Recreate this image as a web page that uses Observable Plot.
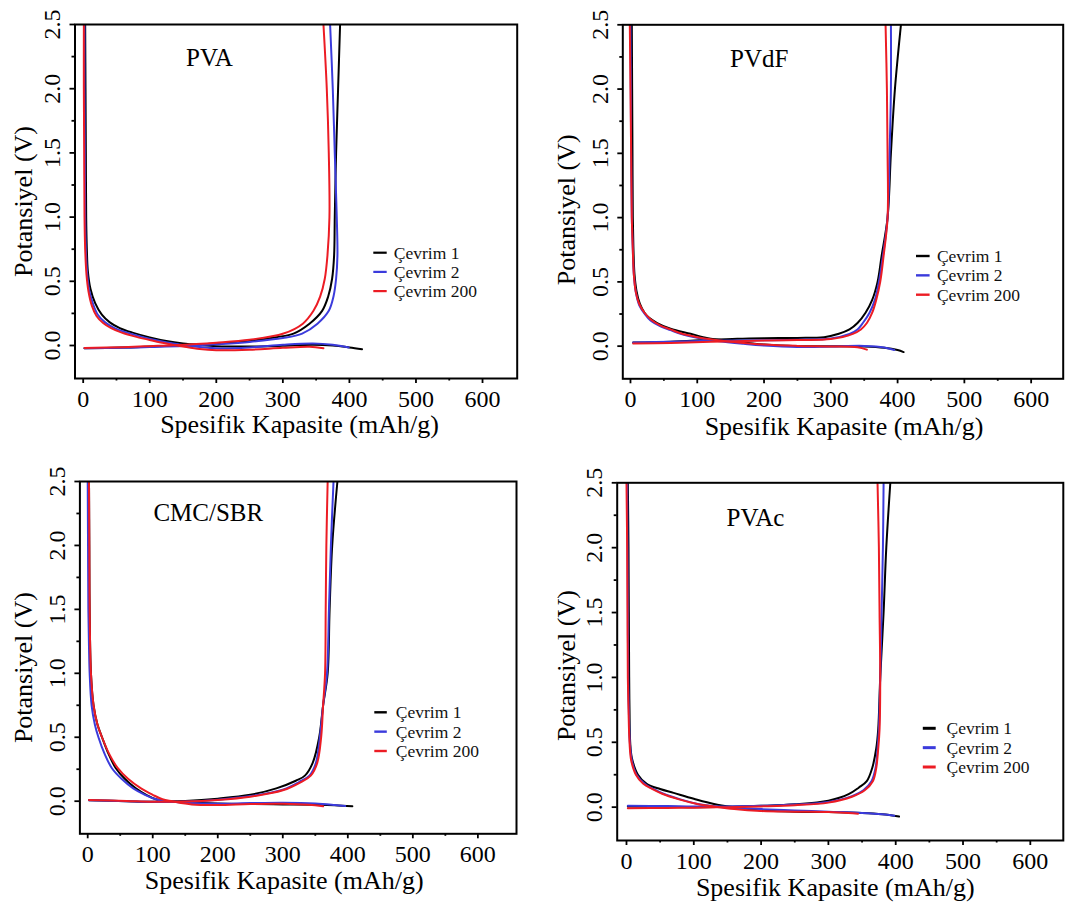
<!DOCTYPE html>
<html><head><meta charset="utf-8">
<script src="https://cdn.jsdelivr.net/npm/d3@7"></script>
<script src="https://cdn.jsdelivr.net/npm/@observablehq/plot@0.6"></script>
<style>
body{margin:0;background:#fff}
#wrap{position:relative;width:1066px;height:909px;overflow:hidden;background:#fff}
.panel{position:absolute}
.panel text{font-family:'Liberation Serif','Times New Roman',Times,serif !important;font-variant:normal !important}
.panel g[aria-label="x-axis tick label"] text,
.panel g[aria-label="y-axis tick label"] text{font-size:24px !important}
</style></head><body><div id="wrap"></div>
<script>
// ---------- tick values & labels ----------
const xMajor = [0, 100, 200, 300, 400, 500, 600];
const xMinor = [50, 150, 250, 350, 450, 550];
const yMajor = [0, 0.5, 1.0, 1.5, 2.0, 2.5];
const yMinor = [0.25, 0.75, 1.25, 1.75, 2.25];
const xLabel = "Spesifik Kapasite (mAh/g)";
const yLabel = "Potansiyel (V)";
const cycles = ["Çevrim 1", "Çevrim 2", "Çevrim 200"];
const colors = ["#000000", "#3b3bdc", "#ec1c24"];
const panelNames = ["PVA", "PVdF", "CMC/SBR", "PVAc"];

// ---------- PVA ----------
const pvaC1Dis = [[3,2.5],[3.5,2.0],[4,1.5],[4.5,1.0],[5.5,0.75],[7,0.58],[11,0.44],[18,0.33],[28,0.24],[40,0.18],[55,0.135],[74,0.1],[100,0.063],[125,0.035],[150,0.016],[175,0.004],[200,-0.005],[250,-0.008],[300,-0.002],[345,0.006],[375,0.0],[400,-0.015],[419,-0.029]];
const pvaC2Dis = [[2,2.5],[2,2.0],[2.5,1.5],[3,1.0],[4,0.75],[6,0.56],[9,0.43],[15,0.32],[22,0.24],[33,0.18],[47,0.135],[66,0.1],[90,0.065],[115,0.035],[140,0.012],[170,-0.01],[200,-0.022],[250,-0.015],[300,0.005],[345,0.015],[375,0.005],[399,-0.016]];
const pvaC200Dis = [[1,2.5],[1,2.0],[1.5,1.5],[2,1.0],[3,0.75],[5,0.55],[8,0.42],[13,0.31],[20,0.23],[30,0.175],[42,0.135],[58,0.1],[80,0.067],[105,0.037],[125,0.015],[150,-0.008],[175,-0.028],[200,-0.037],[250,-0.033],[300,-0.018],[340,-0.01],[361,-0.021]];
const pvaC1Chg = [[2,-0.022],[60,-0.016],[100,-0.008],[150,0.002],[200,0.015],[250,0.035],[290,0.065],[316,0.093],[340,0.17],[359,0.27],[368,0.38],[374,0.52],[377,0.7],[378,1.0],[380,1.5],[383,2.0],[386,2.5]];
const pvaC2Chg = [[2,-0.022],[60,-0.018],[100,-0.012],[150,-0.004],[200,0.01],[250,0.028],[300,0.058],[329,0.093],[352,0.17],[369,0.27],[376,0.38],[380,0.52],[382,0.7],[381,1.0],[378,1.5],[375,2.0],[371,2.5]];
const pvaC200Chg = [[2,-0.02],[60,-0.013],[100,-0.005],[136,0.002],[200,0.022],[250,0.045],[301,0.093],[330,0.17],[346,0.27],[356,0.38],[363,0.52],[367,0.7],[370,1.0],[369,1.5],[366,2.0],[361,2.5]];

// ---------- PVdF ----------
const pvdfC1Dis = [[2,2.5],[2.5,2.0],[3,1.5],[3.5,1.0],[4.5,0.75],[6,0.56],[9,0.43],[14,0.33],[21,0.26],[28,0.22],[40,0.18],[60,0.135],[90,0.096],[116,0.062],[150,0.04],[200,0.012],[250,0.0],[300,0.0],[350,-0.002],[380,-0.012],[400,-0.03],[409,-0.046]];
const pvdfC2Dis = [[0,2.5],[0.5,2.0],[1,1.5],[2,1.0],[3.5,0.75],[5,0.56],[8,0.42],[13,0.32],[21.5,0.25],[30,0.2],[45,0.155],[60,0.125],[75,0.096],[100,0.065],[130,0.04],[170,0.018],[200,0.005],[250,-0.006],[300,-0.002],[350,0.002],[380,-0.01],[395,-0.03]];
const pvdfC200Dis = [[-1,2.5],[0,2.0],[1,1.5],[2,1.0],[3.5,0.75],[5,0.56],[8,0.42],[13,0.33],[21,0.26],[30,0.21],[45,0.16],[60,0.13],[75,0.1],[100,0.07],[125,0.05],[150,0.035],[200,0.012],[250,0.002],[300,-0.002],[340,-0.008],[354,-0.027]];
const pvdfC1Chg = [[4,0.028],[60,0.035],[120,0.05],[160,0.058],[200,0.062],[250,0.064],[290,0.07],[312,0.096],[328,0.13],[340,0.18],[352,0.26],[362,0.36],[370,0.5],[376,0.7],[385,1.0],[390,1.5],[396,2.0],[405,2.5]];
const pvdfC2Chg = [[4,0.028],[60,0.035],[120,0.042],[200,0.046],[250,0.05],[300,0.06],[328,0.096],[340,0.13],[348,0.18],[358,0.26],[366,0.36],[372,0.5],[378,0.7],[385,1.0],[388,1.5],[390,2.0],[390,2.5]];
const pvdfC200Chg = [[4,0.02],[60,0.025],[120,0.035],[200,0.043],[250,0.048],[300,0.055],[333,0.096],[345,0.13],[354,0.18],[362,0.26],[368,0.36],[374,0.5],[379,0.7],[385,1.0],[385,1.5],[384,2.0],[382,2.5]];

// ---------- CMC/SBR ----------
const cmcC1Dis = [[2,2.5],[2.5,2.0],[3,1.5],[5,1.0],[9,0.75],[15,0.6],[22,0.5],[32,0.37],[43,0.26],[57,0.175],[74,0.1],[90,0.05],[105,0.015],[125,0.0],[150,-0.008],[200,-0.018],[250,-0.022],[300,-0.025],[350,-0.028],[380,-0.032],[407,-0.04]];
const cmcC2Dis = [[0,2.5],[0.5,2.0],[1,1.5],[2,1.2],[3,1.0],[6,0.75],[11,0.6],[16.5,0.5],[26,0.37],[37,0.26],[52,0.175],[70,0.1],[88,0.05],[105,0.015],[130,-0.005],[160,-0.015],[200,-0.02],[250,-0.015],[300,-0.012],[350,-0.018],[380,-0.03],[396,-0.038]];
const cmcC200Dis = [[2,2.5],[2.5,2.0],[3,1.5],[5,1.0],[9,0.75],[15,0.6],[22,0.5],[33,0.37],[46,0.26],[62,0.175],[82,0.1],[100,0.05],[115,0.015],[130,0.0],[160,-0.025],[200,-0.03],[250,-0.022],[300,-0.02],[340,-0.028],[362,-0.04]];
const cmcC1Chg = [[2,0.008],[60,0.0],[100,-0.004],[150,0.002],[200,0.02],[250,0.05],[290,0.1],[320,0.16],[334,0.2],[346,0.3],[356,0.5],[362,0.75],[369,1.0],[372,1.5],[376,2.0],[384,2.5]];
const cmcC2Chg = [[2,0.008],[60,0.0],[100,-0.005],[150,-0.003],[200,0.012],[250,0.04],[300,0.09],[325,0.15],[341,0.2],[351,0.3],[357,0.5],[362,0.75],[368,1.0],[371,1.5],[374,2.0],[378,2.5]];
const cmcC200Chg = [[2,0.01],[60,0.002],[100,-0.004],[150,-0.002],[200,0.01],[250,0.035],[300,0.085],[328,0.15],[343,0.2],[353,0.3],[359,0.5],[362,0.75],[365,1.0],[366,1.5],[367,2.0],[369,2.5]];

// ---------- PVAc ----------
const pvacC1Dis = [[2,2.5],[3,2.0],[3.5,1.5],[4,1.0],[4.5,0.75],[5.5,0.5],[8,0.38],[17,0.25],[30,0.18],[50,0.14],[70,0.11],[100,0.065],[130,0.025],[160,0.0],[200,-0.025],[250,-0.035],[300,-0.038],[350,-0.045],[380,-0.055],[405,-0.072]];
const pvacC2Dis = [[1,2.5],[1.5,2.0],[2,1.5],[2.5,1.0],[3.5,0.75],[5,0.5],[8,0.36],[15,0.25],[27,0.18],[40,0.14],[55,0.103],[80,0.06],[110,0.02],[140,0.002],[200,-0.015],[250,-0.025],[300,-0.035],[350,-0.045],[380,-0.055],[398,-0.066]];
const pvacC200Dis = [[0,2.5],[1,2.0],[1.5,1.5],[2,1.0],[3,0.75],[4.5,0.5],[7,0.36],[14,0.25],[25,0.18],[38,0.14],[53,0.103],[78,0.06],[105,0.025],[130,0.005],[160,-0.015],[200,-0.03],[250,-0.035],[300,-0.038],[330,-0.045],[344,-0.051]];
const pvacC1Chg = [[2,0.005],[60,0.003],[100,0.0],[150,0.003],[200,0.01],[250,0.022],[300,0.05],[330,0.1],[345,0.15],[357,0.2],[365,0.3],[371,0.45],[374,0.6],[377,1.0],[382,1.5],[386,2.0],[392,2.5]];
const pvacC2Chg = [[2,0.01],[60,0.008],[100,0.005],[150,0.006],[200,0.01],[250,0.02],[300,0.04],[335,0.085],[352,0.13],[364,0.2],[370,0.3],[373,0.45],[375,0.6],[377,1.0],[379,1.5],[381,2.0],[382,2.5]];
const pvacC200Chg = [[2,-0.008],[60,-0.006],[100,-0.004],[150,0.0],[200,0.006],[250,0.015],[300,0.035],[335,0.08],[354,0.13],[366,0.2],[371,0.3],[374,0.45],[376,0.6],[377,1.0],[376,1.5],[375,2.0],[373,2.5]];

const panelSeries = [
  [[pvaC1Dis, pvaC1Chg], [pvaC2Dis, pvaC2Chg], [pvaC200Dis, pvaC200Chg]],
  [[pvdfC1Dis, pvdfC1Chg], [pvdfC2Dis, pvdfC2Chg], [pvdfC200Dis, pvdfC200Chg]],
  [[cmcC1Dis, cmcC1Chg], [cmcC2Dis, cmcC2Chg], [cmcC200Dis, cmcC200Chg]],
  [[pvacC1Dis, pvacC1Chg], [pvacC2Dis, pvacC2Chg], [pvacC200Dis, pvacC200Chg]]
];

// ---------- layout (pixel geometry, not data) ----------
const layout = [
  {left:0, top:0, w:533, h:455, ml:74.5, mr:16.3, mt:24, mb:77, xd:[-12.3,652.1], yd:[-0.257,2.5],
   title:[209,65], leg:{s1:373.3, s2:386.7, tx:393.3, y:252.7, gap:19.2, sw:2.2}, ylab:[-51.7,0], xlab:[3.4,54]},
  {left:533, top:0, w:533, h:455, ml:89.3, mr:3.3, mt:24.3, mb:76.7, xd:[-11.5,648], yd:[-0.254,2.5],
   title:[225.8,66.7], leg:{s1:383, s2:396.6, tx:403.4, y:256, gap:19.35, sw:2.4}, ylab:[-56.3,8], xlab:[1,56]},
  {left:0, top:455, w:533, h:454, ml:79.4, mr:17, mt:26, mb:75.7, xd:[-12,659.4], yd:[-0.255,2.5],
   title:[207.8,65], leg:{s1:374.3, s2:386.8, tx:395.3, y:257.3, gap:19.35, sw:2.4}, ylab:[-56.6,10], xlab:[-14,55]},
  {left:533, top:455, w:533, h:454, ml:83.7, mr:3.2, mt:27.3, mb:69, xd:[-13.8,649], yd:[-0.257,2.5],
   title:[222,70.7], leg:{s1:389.8, s2:402.7, tx:413, y:273.3, gap:19.35, sw:3}, ylab:[-50.7,4], xlab:[-5,55]}
];

const FONT = "'Liberation Serif', 'Times New Roman', Times, serif";

function svgLine(x1, x2, y, color, w) {
  return () => {
    const l = document.createElementNS("http://www.w3.org/2000/svg", "line");
    l.setAttribute("x1", x1); l.setAttribute("x2", x2);
    l.setAttribute("y1", y); l.setAttribute("y2", y);
    l.setAttribute("stroke", color); l.setAttribute("stroke-width", w);
    return l;
  };
}

const wrap = document.getElementById("wrap");
panelNames.forEach((name, p) => {
  const L = layout[p];
  const rows = [];
  panelSeries[p].forEach((pair, c) => {
    pair.forEach((pts, b) => {
      pts.forEach(([x, y]) => rows.push({x, y, cycle: cycles[c], key: c + "-" + b}));
    });
  });
  const legendMarks = [];
  cycles.forEach((cy, i) => {
    const yy = L.leg.y + i * L.leg.gap;
    legendMarks.push(svgLine(L.leg.s1, L.leg.s2, yy, colors[i], L.leg.sw));
    legendMarks.push(Plot.text([cy], {frameAnchor: "top-left", dx: L.leg.tx - L.ml, dy: yy - L.mt,
      text: d => d, textAnchor: "start", lineAnchor: "middle", fontSize: 17.5, fill: "#111"}));
  });
  const chart = Plot.plot({
    width: L.w, height: L.h,
    marginLeft: L.ml, marginRight: L.mr, marginTop: L.mt, marginBottom: L.mb,
    x: {domain: L.xd, label: null},
    y: {domain: L.yd, label: null},
    color: {domain: cycles, range: colors},
    style: {fontFamily: FONT, fontSize: "24px", background: "transparent", color: "#000", overflow: "visible"},
    marks: [
      Plot.line(rows, {x: "x", y: "y", z: "key", stroke: "cycle", strokeWidth: 2, curve: "catmull-rom", clip: true}),
      Plot.frame({stroke: "#000", strokeWidth: 2}),
      Plot.axisX(xMajor, {tickSize: 5, tickPadding: 6, strokeWidth: 1.8, fontSize: 24, label: null, tickFormat: d => String(d)}),
      Plot.axisX(xMinor, {tickSize: 2.5, strokeWidth: 1.8, label: null, tickFormat: () => ""}),
      Plot.axisY(yMajor, {tickSize: 5, tickPadding: 10, tickRotate: -90, strokeWidth: 1.8, fontSize: 24, label: null, tickFormat: d3.format(".1f")}),
      Plot.axisY(yMinor, {tickSize: 3, strokeWidth: 1.8, label: null, tickFormat: () => ""}),
      Plot.text([xLabel], {frameAnchor: "bottom", dx: L.xlab[0], dy: L.xlab[1], text: d => d, lineAnchor: "bottom", fontSize: 26}),
      Plot.text([yLabel], {frameAnchor: "left", dx: L.ylab[0], dy: L.ylab[1], text: d => d, rotate: -90, textAnchor: "middle", lineAnchor: "middle", fontSize: 26}),
      Plot.text([name], {frameAnchor: "top-left", dx: L.title[0] - L.ml, dy: L.title[1] - L.mt, text: d => d, textAnchor: "middle", lineAnchor: "bottom", fontSize: 25}),
      ...legendMarks
    ]
  });
  chart.classList.add("panel");
  chart.style.left = L.left + "px";
  chart.style.top = L.top + "px";
  wrap.appendChild(chart);
});
</script>
</body></html>
